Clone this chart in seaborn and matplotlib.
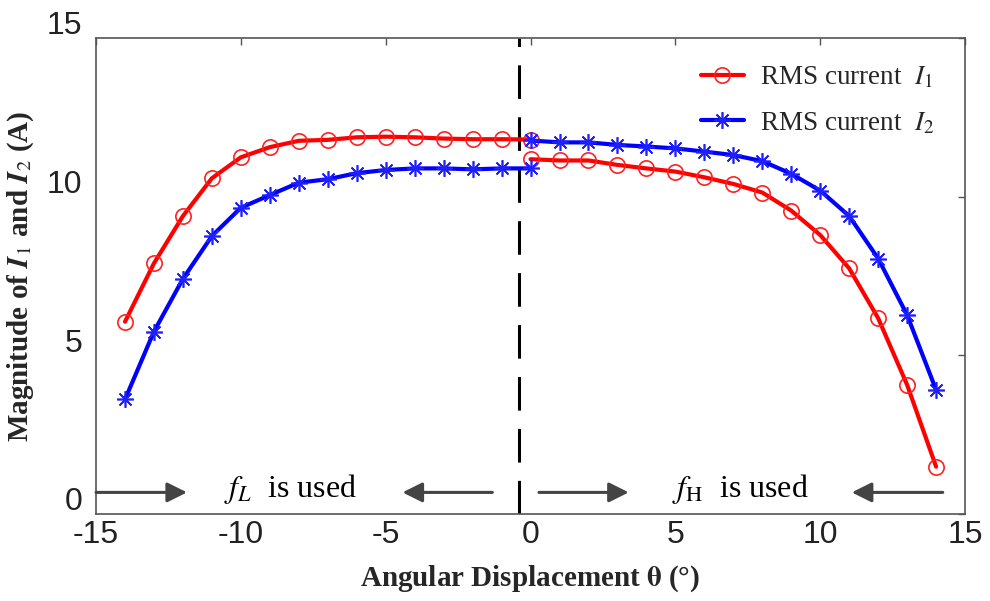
import numpy as np
import pandas as pd
import seaborn as sns
import matplotlib
matplotlib.use("Agg")
import matplotlib.pyplot as plt
from matplotlib.lines import Line2D
from matplotlib.transforms import ScaledTranslation

# ---------------- data ----------------
x_left = [-14, -13, -12, -11, -10, -9, -8, -7, -6, -5, -4, -3, -2, -1, 0]
i1_left = [6.06, 7.90, 9.39, 10.58, 11.24, 11.56, 11.76, 11.79, 11.87, 11.89,
           11.87, 11.83, 11.81, 11.81, 11.80]
i2_left = [3.61, 5.75, 7.41, 8.76, 9.65, 10.05, 10.44, 10.55, 10.74, 10.84,
           10.89, 10.89, 10.86, 10.89, 10.89]
x_right = [0, 1, 2, 3, 4, 5, 6, 7, 8, 9, 10, 11, 12, 13, 14]
i1_right = [11.18, 11.14, 11.14, 11.00, 10.89, 10.79, 10.61, 10.40, 10.13, 9.56,
            8.79, 7.74, 6.17, 4.07, 1.49]
i2_right = [11.77, 11.71, 11.71, 11.63, 11.58, 11.52, 11.42, 11.31, 11.12, 10.72,
            10.19, 9.39, 8.05, 6.27, 3.91]

x_ticks = [-15, -10, -5, 0, 5, 10, 15]
y_ticks = [0, 5, 10, 15]
switch_angle = -0.4
arrow_level = 0.68
arrows = [(-15.0, -11.86), (-1.32, -4.42), (0.29, 3.39), (14.23, 11.09)]  # (tail, tip)
region_labels = [(-8.3, r"$f_L$  is used"), (7.24, r"$f_{\mathrm{H}}$  is used")]
legend_labels = [r"RMS current  $I_1$", r"RMS current  $I_2$"]

df1 = pd.DataFrame({"theta": x_left + x_right, "I": i1_left + i1_right,
                    "seg": ["L"] * len(x_left) + ["R"] * len(x_right)})
df2 = pd.DataFrame({"theta": x_left + x_right, "I": i2_left + i2_right,
                    "seg": ["L"] * len(x_left) + ["R"] * len(x_right)})

# ---------------- style ----------------
sns.set_style("white")
plt.rcParams["font.family"] = ["Liberation Serif", "DejaVu Serif"]
plt.rcParams["mathtext.fontset"] = "stix"

fig = plt.figure(figsize=(9.9, 6.01), dpi=100)
ax = fig.add_axes([0.097, 0.1448, 0.8778, 0.792])

red_kw = dict(color="#ff0000", lw=3, marker="o", markersize=11,
              markerfacecolor="none", markeredgecolor="#ff2020", markeredgewidth=1.2)
blue_kw = dict(color="#0000ff", lw=3, marker=(8, 2, 0), markersize=12,
               markeredgecolor="#2020ff", markeredgewidth=1.2)

sns.lineplot(data=df1, x="theta", y="I", units="seg", estimator=None,
             ax=ax, legend=False, **red_kw)
sns.lineplot(data=df2, x="theta", y="I", units="seg", estimator=None,
             ax=ax, legend=False, **blue_kw)

ax.axvline(switch_angle, color="black", lw=2.2, linestyle=(0, (11, 6)), zorder=1)

for tail, tip in arrows:
    ax.annotate("", xy=(tip, arrow_level), xytext=(tail, arrow_level),
                arrowprops=dict(arrowstyle="-|>", color="#444444", lw=2.2,
                                mutation_scale=30, shrinkA=0, shrinkB=0))

for xc, txt in region_labels:
    ax.text(xc, 0.55, txt, fontsize=23, ha="center", va="baseline", color="black")

ax.set_xlim(-15, 15)
ax.set_ylim(0, 15)
ax.set_xticks(x_ticks)
ax.set_yticks(y_ticks)
ax.set_xticklabels([str(v) for v in x_ticks], family="Liberation Sans", fontsize=23,
                   color="#222222")
ax.set_yticklabels([str(v) for v in y_ticks], family="Liberation Sans", fontsize=23,
                   color="#222222")
ax.tick_params(axis="both", direction="in", length=5, width=1, color="#555555",
               top=True, right=True)
ax.tick_params(axis="x", pad=4)
ax.tick_params(axis="y", pad=10)
off = ScaledTranslation(0, 0.15, fig.dpi_scale_trans)
for lab in ax.get_yticklabels():
    lab.set_transform(lab.get_transform() + off)

for sp in ax.spines.values():
    sp.set_color("#555555")
    sp.set_linewidth(1.2)

ax.set_xlabel(r"Angular Displacement $\mathbf{\theta}$ (°)", fontsize=21,
              fontweight="bold", labelpad=10)
ax.set_ylabel(r"Magnitude of $\mathbfit{I}_1$ and $\mathbfit{I}_2$ (A)", fontsize=21,
              fontweight="bold", labelpad=8)

handles = [Line2D([], [], **red_kw), Line2D([], [], **blue_kw)]
ax.legend(handles, legend_labels, loc="upper right", frameon=False, fontsize=19.5,
          handlelength=1.6, handletextpad=0.6, labelspacing=0.75, borderaxespad=0.4,
          bbox_to_anchor=(0.99, 0.99))

fig.savefig("out.png", dpi=100)
